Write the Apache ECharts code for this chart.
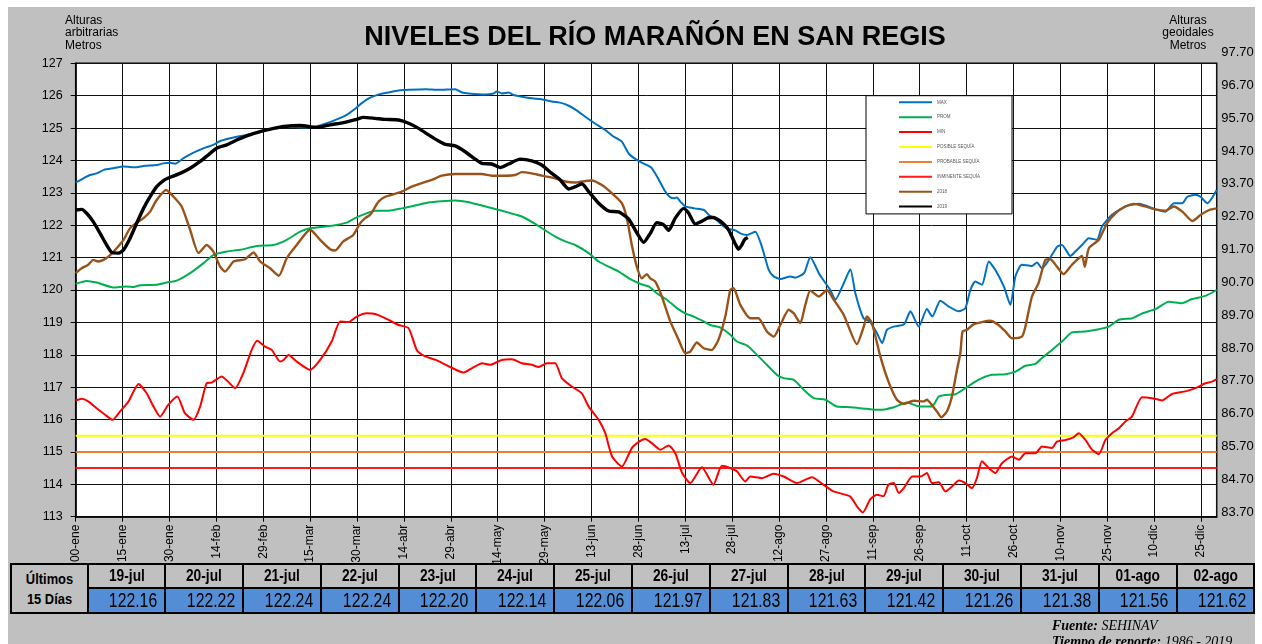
<!DOCTYPE html>
<html>
<head>
<meta charset="utf-8">
<script src="https://cdn.jsdelivr.net/npm/echarts@6/dist/echarts.min.js"></script>
<style>
html, body { margin: 0; padding: 0; width: 1262px; height: 644px; overflow: hidden; background: #fff; font-family: 'Liberation Sans', Arial, sans-serif; }
#fondo { position: absolute; left: 8px; top: 7px; width: 1247px; height: 637px; background: #c0c0c0; }
#chart { position: absolute; left: 0; top: 0; width: 1262px; height: 644px; }
.esq { position: absolute; top: 14px; font-size: 12px; line-height: 12.3px; color: #000; }
#izq { left: 65px; }
#der { left: 1158px; width: 60px; text-align: center; }
#titulo { position: absolute; left: 0; width: 1310px; top: 21px; text-align: center; font-weight: bold; font-size: 27px; color: #000; }
#tabla { position: absolute; left: 10px; top: 563px; border-collapse: collapse; table-layout: fixed; }
#tabla th, #tabla td { border: 2px solid #000; padding: 0; font-family: 'Liberation Sans Narrow', 'Arial Narrow', 'Liberation Sans', sans-serif; color: #000; white-space: nowrap; overflow: hidden; }
#tabla th { height: 22px; font-size: 16px; font-weight: bold; text-align: center; background: #c0c0c0; }
#tabla th span { display: inline-block; transform: scaleX(0.86); }
#tabla th.prim { font-size: 15px; line-height: 20px; }
#tabla td { height: 23px; font-size: 20px; text-align: right; padding-right: 7px; background: #538dd5; }
#tabla td span { display: inline-block; transform: scaleX(0.79); transform-origin: right center; }
#fuente { position: absolute; left: 1052px; top: 618px; font-family: 'Liberation Serif', 'Times New Roman', serif; font-style: italic; font-size: 14px; line-height: 16px; color: #000; white-space: nowrap; }
</style>
</head>
<body>
<div id="fondo"></div>
<div id="chart"></div>
<div id="titulo">NIVELES DEL RÍO MARAÑÓN EN SAN REGIS</div>
<div class="esq" id="izq">Alturas<br>arbitrarias<br>Metros</div>
<div class="esq" id="der">Alturas<br>geoidales<br>Metros</div>
<table id="tabla"></table>
<div id="fuente"><b>Fuente:</b> SEHINAV<br><b>Tiempo de reporte:</b> 1986 - 2019</div>
<script>
// etiquetas del eje X (cada 15 días desde 00-ene)
const etiquetasDias = ['00-ene','15-ene','30-ene','14-feb','29-feb','15-mar','30-mar','14-abr','29-abr','14-may','29-may','13-jun','28-jun','13-jul','28-jul','12-ago','27-ago','11-sep','26-sep','11-oct','26-oct','10-nov','25-nov','10-dic','25-dic'];

// niveles de alerta
const posibleSequia = 115.5;
const probableSequia = 115.0;
const inminenteSequia = 114.5;

// [día del año, nivel]
const nivelMax = [[0,123.32],[2.5,123.45],[4.6,123.55],[6.7,123.6],[9,123.71],[12,123.76],[15.3,123.81],[19.5,123.79],[21.7,123.83],[26,123.86],[28,123.91],[30.2,123.93],[31.8,123.9],[34.5,124.07],[37.7,124.24],[41,124.38],[44,124.48],[46.2,124.6],[50.5,124.71],[54.7,124.79],[59,124.89],[63.3,124.99],[67.5,125.05],[73,125.02],[77,125.05],[80.3,125.15],[83.5,125.27],[86.7,125.41],[89.7,125.62],[91.5,125.77],[93.7,125.92],[97,126.04],[100,126.1],[103.3,126.16],[106.5,126.18],[112,126.2],[116,126.18],[121.4,126.2],[123.6,126.1],[125.7,126.07],[131,126.04],[133.7,126.07],[134.7,126.13],[136.3,126.07],[138.5,126.1],[140,126.02],[142.7,125.97],[146,125.92],[149,125.89],[152.3,125.82],[155.5,125.77],[157.7,125.69],[160,125.56],[163,125.35],[166,125.15],[169.4,124.94],[172,124.74],[174.7,124.58],[177,124.2],[180.3,123.97],[184,123.79],[186,123.5],[188.6,123.04],[190,122.88],[191.3,122.83],[192.3,122.86],[193.4,122.73],[195,122.58],[198,122.52],[201,122.47],[202.5,122.32],[205,122.16],[208,121.91],[211,121.84],[212.6,121.75],[214.7,121.7],[217.4,121.8],[219.5,121.34],[221.7,120.62],[223.3,120.42],[225.4,120.34],[228.6,120.42],[230.2,120.38],[233,120.52],[235,121.01],[238,120.47],[241.4,120.0],[243,119.7],[245.7,120.21],[247.8,120.64],[249.4,119.9],[252,119.13],[254,119.03],[256.3,118.67],[258,118.36],[259.5,118.77],[261.7,118.87],[265,118.94],[267,119.34],[269.7,118.87],[272.3,119.41],[274,119.18],[276.6,119.67],[279.3,119.49],[282.5,119.34],[284.6,119.44],[286.2,120.0],[287.8,120.26],[289.9,120.16],[292.1,120.88],[294.2,120.62],[296.9,120.11],[299,119.54],[300.6,120.42],[302.7,120.78],[305.9,120.74],[307.5,120.85],[309.1,120.67],[311.3,120.93],[314,121.34],[315.5,121.39],[318.2,121.05],[319.8,121.19],[321.9,121.39],[324.1,121.6],[326.7,121.55],[328.3,121.96],[331.5,122.32],[335.8,122.58],[340.1,122.66],[345.4,122.49],[348.6,122.42],[351.3,122.68],[354,122.68],[355.6,122.88],[358.2,122.94],[359.8,122.88],[362,122.68],[365,123.09]];

const nivelProm = [[0,120.19],[3.5,120.28],[6.7,120.23],[12.1,120.08],[16.3,120.11],[18.5,120.09],[20.6,120.15],[25.9,120.16],[29.1,120.23],[32.3,120.29],[36.6,120.52],[40.9,120.83],[44,121.08],[48.3,121.19],[52.6,121.24],[57.9,121.36],[63.3,121.39],[67.5,121.55],[71.8,121.8],[75,121.91],[82.5,121.99],[86.7,122.08],[89.4,122.22],[92.6,122.35],[95.8,122.45],[100.1,122.45],[104.3,122.52],[108.6,122.61],[112.9,122.7],[117.1,122.74],[121.4,122.76],[125.7,122.71],[129.9,122.61],[134.2,122.5],[138.5,122.39],[142.7,122.27],[147,122.04],[150.2,121.84],[153.4,121.65],[156.6,121.5],[159.8,121.39],[164.1,121.14],[167.3,120.88],[170.5,120.72],[173.7,120.57],[177.9,120.31],[181.1,120.17],[183.3,120.11],[185.9,119.9],[189.1,119.7],[192.3,119.44],[195,119.28],[197.7,119.18],[200.9,119.03],[203,118.92],[206.2,118.84],[209.4,118.62],[211.5,118.41],[214.7,118.29],[217.4,118.05],[221.1,117.69],[224.3,117.38],[226.4,117.28],[229.6,117.23],[232.9,116.92],[236.1,116.66],[239.8,116.61],[243.5,116.4],[247.8,116.38],[253.1,116.33],[257.4,116.3],[261.7,116.38],[265.9,116.53],[269.1,116.42],[272.3,116.4],[273.9,116.4],[276.1,116.71],[278.2,116.76],[281.4,116.78],[284.6,116.97],[287.8,117.17],[289.9,117.28],[293.1,117.38],[297.4,117.4],[300.6,117.48],[303.8,117.66],[307,117.72],[309.1,117.9],[312.3,118.15],[315.5,118.41],[318.7,118.69],[323,118.72],[327.3,118.79],[330.5,118.87],[333.7,119.08],[338,119.13],[341.2,119.28],[345.4,119.41],[349.7,119.64],[353.9,119.59],[357.1,119.72],[361.4,119.82],[365,120.0]];

const nivelMin = [[0,116.59],[1.9,116.64],[4,116.56],[6.7,116.35],[9.4,116.15],[11.8,115.99],[14.2,116.25],[16.9,116.56],[20.1,117.1],[22.7,116.81],[24.9,116.4],[27,116.09],[29.6,116.45],[32.5,116.71],[34.9,116.2],[37.7,115.99],[39.8,116.4],[41.9,117.12],[43.5,117.14],[46.7,117.33],[48.3,117.21],[51,116.97],[53.6,117.43],[56.3,118.15],[58.1,118.43],[60.6,118.25],[62.7,118.15],[65.4,117.79],[66.5,117.84],[68.1,117.99],[70.7,117.79],[75,117.53],[78.2,117.84],[81.9,118.41],[84.6,119.03],[87.3,119.01],[89.9,119.18],[93.1,119.28],[95.8,119.26],[99,119.13],[103.3,118.92],[106.5,118.82],[109.1,118.15],[111.8,117.95],[115.2,117.84],[119.4,117.64],[124.1,117.45],[126.8,117.59],[130,117.74],[132.6,117.69],[136.3,117.84],[139.5,117.86],[142.7,117.74],[145.9,117.69],[148.1,117.62],[150.7,117.74],[153.4,117.74],[155.5,117.28],[158.7,117.02],[161.9,116.81],[164.1,116.4],[167.3,115.99],[169.4,115.58],[171.6,114.86],[174.7,114.55],[177.9,115.12],[180.6,115.34],[182.2,115.4],[184.3,115.27],[187,115.07],[189.7,115.2],[191.8,114.96],[194,114.35],[196.6,114.04],[200.3,114.53],[204,113.99],[206.7,114.57],[209.4,114.5],[211.5,114.4],[214.2,114.09],[215.8,114.24],[219.5,114.19],[223.3,114.33],[226.5,114.24],[230.7,114.04],[235.5,114.22],[239.2,113.99],[242.4,113.78],[247.7,113.63],[249.9,113.32],[251.8,113.13],[254.2,113.54],[256.3,113.68],[258.4,113.63],[260,113.99],[261.7,114.04],[263.3,113.73],[264.9,113.88],[267.6,114.24],[270.2,114.24],[272.3,114.35],[273.9,114.04],[276.1,114.06],[278.2,113.78],[280.3,113.93],[282.5,114.12],[284.6,114.04],[286.7,113.88],[288.3,114.19],[289.9,114.71],[292.1,114.5],[294.2,114.35],[296.3,114.65],[299.5,114.86],[301.7,114.76],[303.8,114.96],[307,114.96],[309.1,115.17],[312.3,115.12],[313.9,115.32],[316.6,115.37],[319.3,115.46],[320.9,115.58],[323,115.37],[325.1,115.07],[327.3,114.93],[329.4,115.37],[331.5,115.58],[333.7,115.73],[335.8,115.94],[337.9,116.09],[341.1,116.69],[344.3,116.66],[347.5,116.59],[350.7,116.79],[355,116.87],[358.2,116.97],[361.4,117.12],[363.5,117.17],[365,117.25]];

const nivel2018 = [[0,120.52],[1.9,120.67],[4,120.78],[5.6,120.93],[7.2,120.88],[8.9,120.93],[11,121.08],[13.1,121.29],[15.3,121.55],[17.4,121.91],[19.5,122.08],[21.7,122.22],[23.8,122.42],[25.9,122.78],[28.9,123.09],[31.3,122.88],[33.9,122.58],[36.6,121.86],[39.3,121.14],[41.9,121.39],[44,121.19],[46.2,120.72],[47.8,120.57],[50.5,120.88],[54.2,120.95],[56.9,121.16],[59,120.88],[62.2,120.67],[65,120.44],[67.5,120.98],[70.7,121.39],[75,121.86],[78.2,121.55],[81.4,121.26],[83,121.22],[85.6,121.5],[88.8,121.7],[91,122.06],[92.6,122.22],[94.2,122.32],[96.9,122.73],[99,122.88],[101.1,122.94],[104.3,123.04],[107.5,123.19],[110.7,123.3],[113.9,123.4],[117.1,123.53],[121.4,123.58],[125.6,123.58],[129.9,123.58],[133.1,123.53],[137.4,123.53],[140.6,123.55],[142.7,123.64],[145.9,123.6],[149.1,123.53],[153.4,123.45],[156.6,123.35],[159.8,123.32],[161.9,123.35],[165.1,123.38],[168.3,123.24],[171.5,122.99],[174.7,122.68],[176.3,122.22],[177.9,121.39],[179.5,120.72],[181.1,120.36],[182.7,120.49],[183.8,120.36],[185.4,120.26],[187.5,119.8],[190.2,119.03],[192.9,118.46],[195,118.05],[196.6,118.1],[198.7,118.38],[200.9,118.2],[203.5,118.15],[205.6,118.46],[207.8,119.18],[209.4,120.0],[210.4,120.06],[212.6,119.54],[215.8,119.13],[218.4,119.13],[221.1,118.72],[223.3,118.56],[225.4,118.92],[228.1,119.39],[229.7,119.28],[231.8,118.98],[233.4,119.54],[235,119.98],[237.7,119.8],[240.3,120.0],[242.5,119.7],[245.7,119.23],[249.9,118.33],[252.1,118.87],[253.1,119.18],[254.7,118.98],[257.4,117.95],[260,117.17],[262.7,116.61],[264.9,116.48],[268,116.58],[271.3,116.56],[272.3,116.61],[273.9,116.45],[275.5,116.25],[276.9,116.07],[278.7,116.25],[280.3,116.71],[281.9,117.53],[283,118.05],[283.7,118.72],[285.1,118.77],[287.2,118.94],[289.9,119.01],[292.5,119.05],[295.2,118.92],[297.4,118.72],[299.5,118.51],[302.7,118.56],[303.8,118.87],[305.9,119.8],[308,120.21],[310.2,120.93],[311.8,120.95],[313.9,120.72],[316,120.49],[318.7,120.78],[321.9,121.05],[322.8,120.72],[324.1,121.29],[327.3,121.55],[329.9,122.06],[332.6,122.37],[335.8,122.58],[338.5,122.66],[342.2,122.58],[345.4,122.49],[348.6,122.45],[351.3,122.58],[354,122.42],[357.2,122.13],[359.9,122.32],[362.6,122.47],[365,122.52]];

const nivel2019 = [[0,122.47],[1.9,122.49],[3.5,122.37],[5.6,122.11],[7.8,121.75],[9.9,121.39],[11.5,121.16],[13.7,121.14],[15.3,121.24],[17.4,121.6],[19.5,122.06],[21.7,122.52],[23.8,122.88],[25.9,123.19],[28.1,123.38],[30.2,123.48],[33.4,123.6],[36.6,123.76],[39.8,123.97],[43,124.22],[45.1,124.38],[48.3,124.48],[51.5,124.63],[54.7,124.76],[59,124.89],[63.3,124.99],[66.5,125.05],[71.8,125.08],[77.1,125.02],[81.4,125.1],[85.7,125.17],[89.9,125.27],[92,125.33],[95.8,125.3],[98.9,125.27],[103.3,125.25],[106.5,125.15],[109.7,124.99],[112.9,124.79],[116.1,124.6],[118.2,124.5],[121.4,124.45],[124.6,124.27],[127.8,124.04],[129.9,123.91],[133.1,123.89],[135.8,123.78],[138.5,123.89],[142.2,124.04],[145.9,123.99],[149.1,123.86],[152.3,123.6],[155,123.4],[157.7,123.12],[159.8,123.19],[161.9,123.28],[164.1,123.04],[167.3,122.68],[170.5,122.44],[173.7,122.41],[176.9,122.19],[179.6,121.75],[181.7,121.47],[183.8,121.75],[185.9,122.08],[188.1,122.01],[189.7,121.84],[191.8,122.22],[194.5,122.52],[196.1,122.37],[198.2,122.04]];

// últimos 15 días (19-jul = día 201)
const fechasUltimos = ['19-jul','20-jul','21-jul','22-jul','23-jul','24-jul','25-jul','26-jul','27-jul','28-jul','29-jul','30-jul','31-jul','01-ago','02-ago'];
const valoresUltimos = [122.16,122.22,122.24,122.24,122.20,122.14,122.06,121.97,121.83,121.63,121.42,121.26,121.38,121.56,121.62];
const diaInicioUltimos = 201;

const serie2019 = nivel2019.concat(valoresUltimos.map((v, i) => [diaInicioUltimos + i, v]));

// tabla
let html = '<colgroup><col style="width:76.5px">' + fechasUltimos.map(() => '<col style="width:77.8px">').join('') + '</colgroup>';
html += '<tr><th class="prim" rowspan="2"><span>Últimos<br>15 Días</span></th>' + fechasUltimos.map(f => '<th><span>' + f + '</span></th>').join('') + '</tr>';
html += '<tr>' + valoresUltimos.map(v => '<td><span>' + v.toFixed(2) + '</span></td>').join('') + '</tr>';
document.getElementById('tabla').innerHTML = html;

const fuente = "'Liberation Sans', Arial, sans-serif";
function linea(name, data, color, width) {
  return { name, type: 'line', data, showSymbol: false, symbol: 'none', smooth: 0.2, color,
    lineStyle: { color, width }, emphasis: { disabled: true }, animation: false };
}
function nivelFijo(name, valor, color) {
  return linea(name, [[0, valor], [365, valor]], color, 2);
}

const chart = echarts.init(document.getElementById('chart'), null, { renderer: 'canvas' });
chart.setOption({
  animation: false,
  textStyle: { fontFamily: fuente },
  legend: {
    orient: 'vertical', left: 866, top: 95.7,
    padding: [3.6, 32, 4.3, 33],
    backgroundColor: '#fff', borderColor: '#000', borderWidth: 1, borderRadius: 0,
    icon: 'rect', itemWidth: 33, itemHeight: 2, itemGap: 8.9,
    textStyle: { fontSize: 4.5, lineHeight: 6, color: '#555', fontFamily: fuente },
    selectedMode: false,
    data: ['MAX', 'PROM', 'MIN', 'POSIBLE SEQUÍA', 'PROBABLE SEQUÍA', 'INMINENTE SEQUÍA', '2018', '2019']
  },
  grid: [
    { left: 75.7, right: 45.3, top: 63.3, bottom: 127.3, show: true, backgroundColor: '#fff',
      borderColor: '#000', borderWidth: 1.5, outerBoundsMode: 'none' },
    { left: 75.7, right: 45.3, top: 52.4, bottom: 131.7, show: false, outerBoundsMode: 'none' }
  ],
  xAxis: [
    { type: 'value', gridIndex: 0, min: 0, max: 365, interval: 15,
      axisLine: { show: true, lineStyle: { color: '#000', width: 1.5 } },
      axisTick: { show: true, length: 5, lineStyle: { color: '#000' } },
      splitLine: { show: true, lineStyle: { color: '#111', width: 1 } },
      axisLabel: { rotate: 90, margin: 8, fontSize: 12, color: '#000', fontFamily: fuente,
        showMaxLabel: false,
        formatter: v => (v % 15 === 0 && v / 15 < etiquetasDias.length) ? etiquetasDias[v / 15] : '' } },
    { type: 'value', gridIndex: 1, min: 0, max: 1, show: false }
  ],
  yAxis: [
    { type: 'value', gridIndex: 0, min: 113, max: 127, interval: 1,
      axisLine: { show: true, lineStyle: { color: '#000', width: 1.5 } },
      axisTick: { show: true, length: 5, lineStyle: { color: '#000' } },
      splitLine: { show: true, lineStyle: { color: '#111', width: 1 } },
      axisLabel: { margin: 13, fontSize: 12.5, color: '#000', fontFamily: fuente } },
    { type: 'value', gridIndex: 1, position: 'right', min: 0, max: 14, interval: 1,
      axisLine: { show: false }, axisTick: { show: false }, splitLine: { show: false },
      axisLabel: { margin: 4.5, fontSize: 13, color: '#000', fontFamily: fuente,
        formatter: v => (83.7 + v).toFixed(2) } }
  ],
  series: [
    nivelFijo('POSIBLE SEQUÍA', posibleSequia, '#ffff00'),
    nivelFijo('PROBABLE SEQUÍA', probableSequia, '#ed7d31'),
    nivelFijo('INMINENTE SEQUÍA', inminenteSequia, '#ff1a1a'),
    linea('MIN', nivelMin, '#ff0000', 2),
    linea('PROM', nivelProm, '#00b050', 2),
    linea('MAX', nivelMax, '#0070c0', 2),
    linea('2018', nivel2018, '#99531a', 2.4),
    linea('2019', serie2019, '#000000', 3.4)
  ]
});
</script>
</body>
</html>
